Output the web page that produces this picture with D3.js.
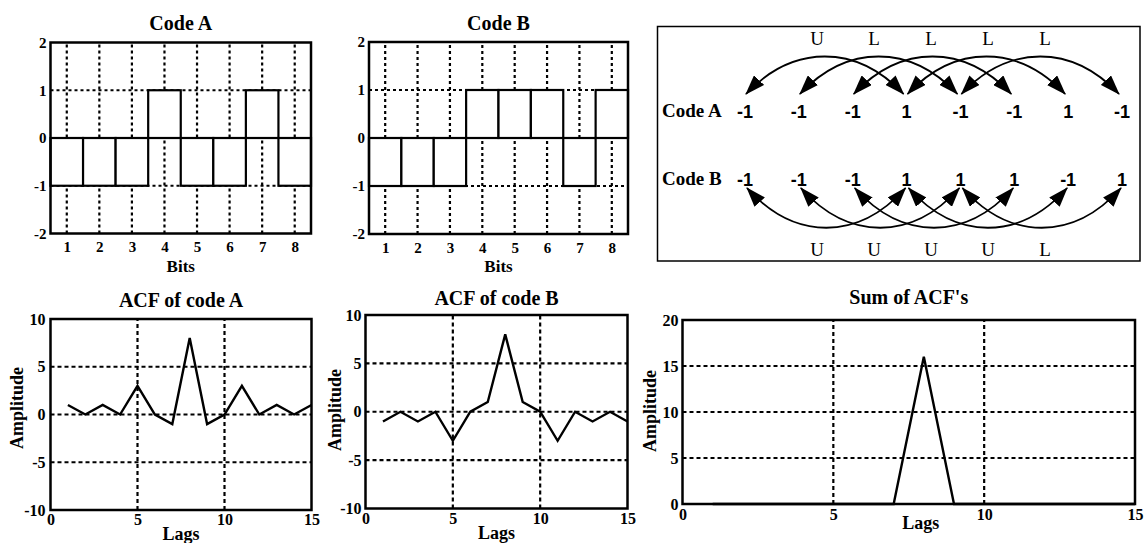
<!DOCTYPE html>
<html>
<head>
<meta charset="utf-8">
<script src="https://cdn.jsdelivr.net/npm/d3@7"></script>
<style>
  body { margin: 0; background: #fff; }
  svg { display: block; }
  .serif { font-family: "Liberation Serif", "Times New Roman", serif; font-weight: bold; }
</style>
</head>
<body>
<svg id="chart"></svg>
<script>
const width = 1146;
const height = 543;

// -----------------------------
// DATA
// -----------------------------
const bits = [1, 2, 3, 4, 5, 6, 7, 8];
const codeA = [-1, -1, -1, 1, -1, -1, 1, -1];
const codeB = [-1, -1, -1, 1, 1, 1, -1, 1];

const lags = [1, 2, 3, 4, 5, 6, 7, 8, 9, 10, 11, 12, 13, 14, 15];
const acfA = [1, 0, 1, 0, 3, 0, -1, 8, -1, 0, 3, 0, 1, 0, 1];
const acfB = [-1, 0, -1, 0, -3, 0, 1, 8, 1, 0, -3, 0, -1, 0, -1];
const acfSum = [0, 0, 0, 0, 0, 0, 0, 16, 0, 0, 0, 0, 0, 0, 0];

const codeTicksY = [-2, -1, 0, 1, 2];
const acfTicksX = [0, 5, 10, 15];
const acfTicksY = [-10, -5, 0, 5, 10];
const sumTicksY = [0, 5, 10, 15, 20];

// lag-3 comparisons: pairs of bit positions, like (L) / unlike (U)
const pairs = [[1, 4], [2, 5], [3, 6], [4, 7], [5, 8]];
const linksA = ["U", "L", "L", "L", "L"];
const linksB = ["U", "U", "U", "U", "L"];

const svg = d3.select("#chart")
  .attr("width", width)
  .attr("height", height);

const fmt = d => d3.format("")(d).replace("−", "-");

// -----------------------------
// PANEL HELPERS
// -----------------------------
function frame(g, x, y) {
  g.append("rect")
    .attr("x", x.range()[0])
    .attr("y", y.range()[1])
    .attr("width", x.range()[1] - x.range()[0])
    .attr("height", y.range()[0] - y.range()[1])
    .attr("fill", "none")
    .attr("stroke", "#000")
    .attr("stroke-width", 2.5);
}

function grid(g, x, y, gx, gy, dash) {
  g.append("g").selectAll("line")
    .data(gx)
    .join("line")
    .attr("x1", d => x(d)).attr("x2", d => x(d))
    .attr("y1", y.range()[0]).attr("y2", y.range()[1]);
  g.append("g").selectAll("line")
    .data(gy)
    .join("line")
    .attr("x1", x.range()[0]).attr("x2", x.range()[1])
    .attr("y1", d => y(d)).attr("y2", d => y(d));
  g.selectAll("line")
    .attr("stroke", "#000")
    .attr("stroke-width", 2.2)
    .attr("stroke-dasharray", dash);
}

function axes(g, x, y, tx, ty, opt) {
  const ax = g.append("g")
    .attr("transform", `translate(0,${y.range()[0]})`)
    .call(d3.axisBottom(x).tickValues(tx).tickSize(0).tickPadding(opt.padX).tickFormat(fmt));
  const ay = g.append("g")
    .attr("transform", `translate(${x.range()[0]},0)`)
    .call(d3.axisLeft(y).tickValues(ty).tickSize(0).tickPadding(opt.padY).tickFormat(fmt));
  [ax, ay].forEach(a => {
    a.select(".domain").remove();
    a.selectAll("text")
      .attr("class", "serif")
      .attr("font-size", opt.size)
      .attr("fill", "#000");
  });
}

function label(g, txt, x, y, size, rotate) {
  g.append("text")
    .attr("class", "serif")
    .attr("text-anchor", "middle")
    .attr("font-size", size)
    .attr("transform", rotate ? `translate(${x},${y}) rotate(-90)` : `translate(${x},${y})`)
    .text(txt);
}

// -----------------------------
// CODE PLOTS
// -----------------------------
function codePlot(values, title, left, right, top, bottom) {
  const g = svg.append("g");
  const x = d3.scaleLinear().domain([0.5, 8.5]).range([left, right]);
  const y = d3.scaleLinear().domain([-2, 2]).range([bottom, top]);

  grid(g, x, y, bits, [-1, 0, 1], "3,3");

  g.append("g").selectAll("rect")
    .data(values)
    .join("rect")
    .attr("x", (d, i) => x(bits[i] - 0.5))
    .attr("width", (d, i) => x(bits[i] + 0.5) - x(bits[i] - 0.5))
    .attr("y", d => y(Math.max(0, d)))
    .attr("height", d => Math.abs(y(d) - y(0)))
    .attr("fill", "#fff")
    .attr("stroke", "#000")
    .attr("stroke-width", 2.2);

  frame(g, x, y);
  axes(g, x, y, bits, codeTicksY, { padX: 8, padY: 4, size: 15 });

  const cx = (left + right) / 2;
  label(g, title, cx, 30, 20);
  label(g, "Bits", cx, 272, 17);
}

codePlot(codeA, "Code A", 50.5, 311, 42.5, 233.5);
codePlot(codeB, "Code B", 369, 628, 42, 234);

// -----------------------------
// ACF PLOTS
// -----------------------------
function acfPlot(values, title, yDomain, ticksY, gridY, box, txt) {
  const g = svg.append("g");
  const x = d3.scaleLinear().domain([0, 15]).range([box.left, box.right]);
  const y = d3.scaleLinear().domain(yDomain).range([box.bottom, box.top]);

  grid(g, x, y, [5, 10], gridY, "4,3");

  g.append("path")
    .datum(values)
    .attr("fill", "none")
    .attr("stroke", "#000")
    .attr("stroke-width", 2.4)
    .attr("stroke-linejoin", "miter")
    .attr("d", d3.line().x((d, i) => x(lags[i])).y(d => y(d)));

  frame(g, x, y);
  axes(g, x, y, acfTicksX, ticksY, { padX: box.padX, padY: box.padY, size: 16 });

  const cx = (box.left + box.right) / 2;
  label(g, title, cx, txt.titleY, 20);
  label(g, "Lags", cx + txt.lagsDx, txt.lagsY, 18);
  label(g, "Amplitude", txt.ampX, txt.ampY, 18, true);
}

acfPlot(acfA, "ACF of code A", [-10, 10], acfTicksY, [-5, 0, 5],
  { left: 50.5, right: 311.5, top: 319, bottom: 510, padX: 4, padY: 5 },
  { titleY: 307, lagsY: 540, lagsDx: 0, ampX: 23, ampY: 408 });

acfPlot(acfB, "ACF of code B", [-10, 10], acfTicksY, [-5, 0, 5],
  { left: 365.5, right: 627.5, top: 315, bottom: 508.5, padX: 4, padY: 4 },
  { titleY: 305, lagsY: 539, lagsDx: 0, ampX: 341, ampY: 410 });

acfPlot(acfSum, "Sum of ACF's", [0, 20], sumTicksY, [5, 10, 15],
  { left: 682.5, right: 1135, top: 320, bottom: 504, padX: 5, padY: 4 },
  { titleY: 304, lagsY: 529, lagsDx: 12, ampX: 656, ampY: 411 });

// -----------------------------
// LAG DIAGRAM
// -----------------------------
const dg = svg.append("g");

dg.append("rect")
  .attr("x", 657.5).attr("y", 26.5)
  .attr("width", 482.5).attr("height", 234.5)
  .attr("fill", "none")
  .attr("stroke", "#000")
  .attr("stroke-width", 1.5);

const defs = svg.append("defs");
defs.append("marker")
  .attr("id", "head")
  .attr("markerUnits", "userSpaceOnUse")
  .attr("viewBox", "0 0 20 14")
  .attr("markerWidth", 20)
  .attr("markerHeight", 14)
  .attr("refX", 19)
  .attr("refY", 7)
  .attr("orient", "auto-start-reverse")
  .append("path")
  .attr("d", "M0,0 L20,7 L0,14 Z")
  .attr("fill", "#000");

const pos = d3.scalePoint().domain(bits).range([745, 1122]);
const linkPos = d3.scalePoint().domain(d3.range(pairs.length)).range([817, 1045]);

function codeRow(values, links, name, rowY, tipY, bendY, letterY, dxL, dxR) {
  dg.append("text")
    .attr("class", "serif")
    .attr("x", 662).attr("y", rowY)
    .attr("font-size", 19)
    .text(name);

  dg.append("g").selectAll("text")
    .data(values)
    .join("text")
    .attr("x", (d, i) => pos(bits[i]))
    .attr("y", rowY + 1)
    .attr("text-anchor", "middle")
    .attr("font-family", "'Liberation Sans', Arial, sans-serif")
    .attr("font-weight", "bold")
    .attr("font-size", 18)
    .text(d => fmt(d));

  dg.append("g").selectAll("path")
    .data(pairs)
    .join("path")
    .attr("fill", "none")
    .attr("stroke", "#000")
    .attr("stroke-width", 1.8)
    .attr("marker-start", "url(#head)")
    .attr("marker-end", "url(#head)")
    .attr("d", ([a, b]) => {
      const x0 = pos(a) + dxL, x1 = pos(b) + dxR;
      const w = x1 - x0;
      const p = d3.path();
      p.moveTo(x0, tipY);
      p.bezierCurveTo(x0 + w * 0.3, bendY, x1 - w * 0.3, bendY, x1, tipY);
      return p.toString();
    });

  dg.append("g").selectAll("text")
    .data(links)
    .join("text")
    .attr("x", (d, i) => linkPos(i))
    .attr("y", letterY)
    .attr("text-anchor", "middle")
    .attr("font-family", "'Liberation Serif', 'Times New Roman', serif")
    .attr("font-size", 19)
    .text(d => d);
}

codeRow(codeA, linksA, "Code A", 117, 94, 44, 45, 1, -3);
codeRow(codeB, linksB, "Code B", 185, 188, 241, 256, 2, -1);
</script>
</body>
</html>
